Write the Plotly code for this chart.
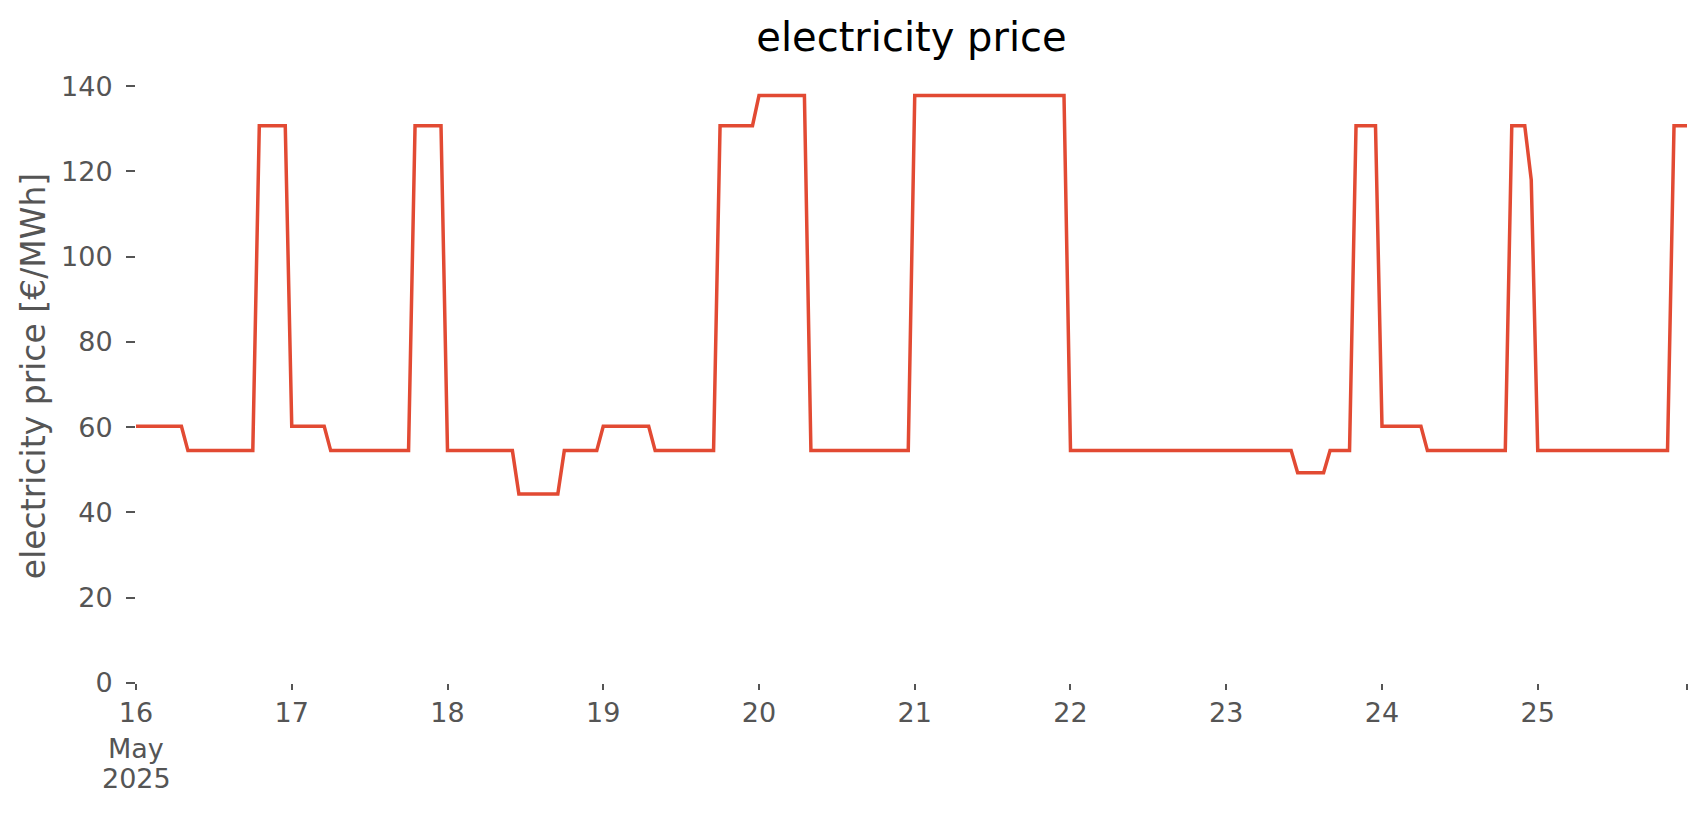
import pandas as pd
import plotly.graph_objects as go

# hourly electricity prices [€/MWh], one list per day (00:00 .. 23:00)
day_16 = [60.2, 60.2, 60.2, 60.2, 60.2, 60.2, 60.2, 60.2,
          54.5, 54.5, 54.5, 54.5, 54.5, 54.5, 54.5, 54.5, 54.5, 54.5, 54.5,
          130.7, 130.7, 130.7, 130.7, 130.7]
day_17 = [60.2, 60.2, 60.2, 60.2, 60.2, 60.2,
          54.5, 54.5, 54.5, 54.5, 54.5, 54.5, 54.5, 54.5, 54.5, 54.5, 54.5, 54.5, 54.5,
          130.7, 130.7, 130.7, 130.7, 130.7]
day_18 = [54.5, 54.5, 54.5, 54.5, 54.5, 54.5, 54.5, 54.5, 54.5, 54.5, 54.5,
          44.3, 44.3, 44.3, 44.3, 44.3, 44.3, 44.3,
          54.5, 54.5, 54.5, 54.5, 54.5, 54.5]
day_19 = [60.2, 60.2, 60.2, 60.2, 60.2, 60.2, 60.2, 60.2,
          54.5, 54.5, 54.5, 54.5, 54.5, 54.5, 54.5, 54.5, 54.5, 54.5,
          130.7, 130.7, 130.7, 130.7, 130.7, 130.7]
day_20 = [137.8, 137.8, 137.8, 137.8, 137.8, 137.8, 137.8, 137.8,
          54.5, 54.5, 54.5, 54.5, 54.5, 54.5, 54.5, 54.5,
          54.5, 54.5, 54.5, 54.5, 54.5, 54.5, 54.5, 54.5]
day_21 = [137.8, 137.8, 137.8, 137.8, 137.8, 137.8, 137.8, 137.8,
          137.8, 137.8, 137.8, 137.8, 137.8, 137.8, 137.8, 137.8,
          137.8, 137.8, 137.8, 137.8, 137.8, 137.8, 137.8, 137.8]
day_22 = [54.5, 54.5, 54.5, 54.5, 54.5, 54.5, 54.5, 54.5,
          54.5, 54.5, 54.5, 54.5, 54.5, 54.5, 54.5, 54.5,
          54.5, 54.5, 54.5, 54.5, 54.5, 54.5, 54.5, 54.5]
day_23 = [54.5, 54.5, 54.5, 54.5, 54.5, 54.5, 54.5, 54.5, 54.5, 54.5, 54.5,
          49.3, 49.3, 49.3, 49.3, 49.3,
          54.5, 54.5, 54.5, 54.5,
          130.7, 130.7, 130.7, 130.7]
day_24 = [60.2, 60.2, 60.2, 60.2, 60.2, 60.2, 60.2,
          54.5, 54.5, 54.5, 54.5, 54.5, 54.5, 54.5, 54.5, 54.5, 54.5, 54.5, 54.5, 54.5,
          130.7, 130.7, 130.7,
          118.0]
day_25 = [54.5, 54.5, 54.5, 54.5, 54.5, 54.5, 54.5, 54.5, 54.5, 54.5, 54.5,
          54.5, 54.5, 54.5, 54.5, 54.5, 54.5, 54.5, 54.5, 54.5, 54.5,
          130.7, 130.7, 130.7]

days = [day_16, day_17, day_18, day_19, day_20, day_21, day_22, day_23, day_24, day_25]
prices = [v for d in days for v in d]
times = pd.date_range("2025-05-16 00:00", periods=len(prices), freq="h")

tick_dates = ["2025-05-16", "2025-05-17", "2025-05-18", "2025-05-19", "2025-05-20",
              "2025-05-21", "2025-05-22", "2025-05-23", "2025-05-24", "2025-05-25",
              "2025-05-25 23:00"]
tick_labels = ["16", "17", "18", "19", "20", "21", "22", "23", "24", "25", ""]
month_label = "May"
year_label = "2025"
y_ticks = [0, 20, 40, 60, 80, 100, 120, 140]

FONT = "DejaVu Sans"
GREY = "#555555"

T, B = 61, 139.5
PLOT_H = 815 - T - B

fig = go.Figure()
fig.add_trace(go.Scatter(x=times, y=prices, mode="lines",
                         line=dict(color="#E24A33", width=3.5), showlegend=False))

fig.update_layout(
    width=1706, height=815,
    margin=dict(l=128, r=27, t=T, b=B),
    paper_bgcolor="white", plot_bgcolor="white",
    font=dict(family=FONT, color=GREY),
    title=dict(text="electricity price", x=0.5, xref="paper", xanchor="center",
               y=1 - 29 / 815, yref="container", yanchor="middle",
               font=dict(family=FONT, size=40, color="black")),
)
for txt, off in [(month_label, 66), (year_label, 96)]:
    fig.add_annotation(text=txt, x=tick_dates[0], xref="x", y=-off / PLOT_H, yref="paper",
                       xanchor="center", yanchor="middle", showarrow=False,
                       font=dict(family=FONT, size=27, color=GREY))

fig.update_xaxes(
    range=[times[0], times[-1]], tickmode="array", tickvals=tick_dates, ticktext=tick_labels,
    showgrid=False, zeroline=False, showline=False,
    ticks="outside", ticklen=6, tickwidth=1.5, tickcolor=GREY,
    tickfont=dict(family=FONT, size=27, color=GREY), ticklabelstandoff=0,
)
fig.update_yaxes(
    range=[0, 144], tickmode="array", tickvals=y_ticks,
    showgrid=False, zeroline=False, showline=False,
    ticks="outside", ticklen=9, tickwidth=2, tickcolor=GREY,
    tickfont=dict(family=FONT, size=27, color=GREY), ticklabelstandoff=8,
    title=dict(text="electricity price [€/MWh]", standoff=5,
               font=dict(family=FONT, size=33, color=GREY)),
)

fig.write_html("out.html")
